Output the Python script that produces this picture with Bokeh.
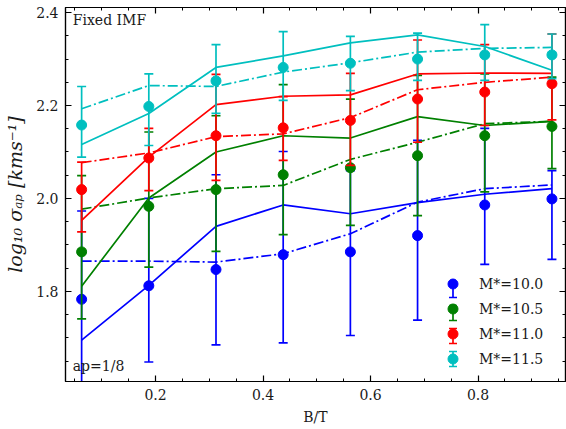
from bokeh.plotting import figure
from bokeh.models import (Range1d, LinearAxis, SingleIntervalTicker, Legend,
                          LegendItem, Label, ColumnDataSource,
                          PrintfTickFormatter, Whisker, TeeHead)
from bokeh.embed import file_html
from bokeh.resources import INLINE

# bulge-to-total bin centres
bt = [0.0625, 0.1875, 0.3125, 0.4375, 0.5625, 0.6875, 0.8125, 0.9375]

# measured log10 sigma_ap (markers) with lower / upper error limits
sig_100 = [1.783, 1.812, 1.847, 1.879, 1.885, 1.920, 1.986, 1.999]
lo_100 = [1.576, 1.648, 1.685, 1.689, 1.705, 1.738, 1.858, 1.869]
hi_100 = [1.973, 2.000, 2.051, 2.101, 2.060, 2.125, 2.151, 2.060]

sig_105 = [1.885, 1.983, 2.019, 2.051, 2.066, 2.092, 2.135, 2.155]
lo_105 = [1.741, 1.852, 1.886, 1.922, 1.942, 1.963, 2.014, 2.064]
hi_105 = [2.049, 2.143, 2.178, 2.245, 2.214, 2.265, 2.268, 2.261]

sig_110 = [2.019, 2.087, 2.135, 2.152, 2.168, 2.214, 2.229, 2.247]
lo_110 = [1.928, 2.017, 2.039, 2.082, 2.071, 2.121, 2.157, 2.169]
hi_110 = [2.078, 2.151, 2.267, 2.219, 2.269, 2.341, 2.331, 2.354]

sig_115 = [2.158, 2.198, 2.253, 2.282, 2.291, 2.300, 2.309, 2.309]
lo_115 = [2.089, 2.114, 2.183, 2.211, 2.232, 2.254, 2.254, 2.258]
hi_115 = [2.241, 2.268, 2.331, 2.359, 2.349, 2.356, 2.374, 2.354]

# model predictions: solid and dash-dot curves
solid_100 = [1.695, 1.813, 1.940, 1.986, 1.967, 1.991, 2.009, 2.021]
dd_100 = [1.865, 1.865, 1.863, 1.881, 1.924, 1.992, 2.021, 2.029]
solid_105 = [1.811, 2.001, 2.100, 2.135, 2.130, 2.176, 2.157, 2.166]
dd_105 = [1.977, 2.001, 2.021, 2.028, 2.084, 2.121, 2.161, 2.166]
solid_110 = [1.953, 2.089, 2.202, 2.220, 2.223, 2.268, 2.270, 2.269]
dd_110 = [2.077, 2.098, 2.133, 2.139, 2.174, 2.234, 2.250, 2.261]
solid_115 = [2.116, 2.183, 2.282, 2.307, 2.335, 2.352, 2.327, 2.276]
dd_115 = [2.193, 2.243, 2.241, 2.272, 2.292, 2.315, 2.323, 2.325]

labels = ["M*=10.0", "M*=10.5", "M*=11.0", "M*=11.5"]
colors = ["#0000ff", "#008000", "#ff0000", "#00bfbf"]

series = [
    (sig_100, lo_100, hi_100, solid_100, dd_100),
    (sig_105, lo_105, hi_105, solid_105, dd_105),
    (sig_110, lo_110, hi_110, solid_110, dd_110),
    (sig_115, lo_115, hi_115, solid_115, dd_115),
]

FONT = "DejaVu Serif"
INK = "#1a1a1a"
LW = 1.7

frame_w = 566 - 65 - 1
x0 = 0.0325
x1 = x0 + frame_w / 537.5

p = figure(width=566, height=429, output_backend="svg", toolbar_location=None,
           x_range=Range1d(x0, x1), y_range=Range1d(1.606, 2.411),
           min_border_left=65, min_border_right=1, min_border_top=7,
           min_border_bottom=48)
p.xgrid.visible = False
p.ygrid.visible = False
p.outline_line_color = "black"
p.outline_line_width = 1.2
p.background_fill_color = "white"
p.border_fill_color = "white"


def style_axis(ax, show_labels):
    ax.ticker = SingleIntervalTicker(interval=0.2, num_minor_ticks=4)
    ax.formatter = PrintfTickFormatter(format="%.1f")
    ax.major_tick_in = 6
    ax.major_tick_out = 0
    ax.minor_tick_in = 3
    ax.minor_tick_out = 0
    ax.major_tick_line_width = 1.2
    ax.minor_tick_line_width = 1
    ax.axis_line_color = "black"
    ax.axis_line_width = 1.2
    if show_labels:
        ax.major_label_text_font = FONT
        ax.major_label_text_font_size = "14px"
        ax.major_label_text_color = INK
        ax.major_label_standoff = 7
    else:
        # tick marks only on the mirrored axes
        ax.major_label_text_font_size = "1px"
        ax.major_label_text_alpha = 0
        ax.major_label_standoff = 0


style_axis(p.xaxis[0], True)
style_axis(p.yaxis[0], True)
p.xaxis.axis_label = "B/T"
p.xaxis.axis_label_text_font = FONT
p.xaxis.axis_label_text_font_size = "14px"
p.xaxis.axis_label_text_font_style = "normal"
p.xaxis.axis_label_text_color = INK
p.xaxis.axis_label_standoff = 6
p.yaxis.axis_label = "log₁₀ σₐₚ [kms⁻¹]"
p.yaxis.axis_label_text_font = FONT
p.yaxis.axis_label_text_font_size = "19px"
p.yaxis.axis_label_text_font_style = "italic"
p.yaxis.axis_label_text_color = INK
p.yaxis.axis_label_standoff = 7

top_ax = LinearAxis()
style_axis(top_ax, False)
p.add_layout(top_ax, "above")
right_ax = LinearAxis()
style_axis(right_ax, False)
p.add_layout(right_ax, "right")

items = []
for (sig, lo, hi, solid, dd), col, lab in zip(series, colors, labels):
    p.line(bt, solid, line_color=col, line_width=LW)
    p.line(bt, dd, line_color=col, line_width=LW, line_dash="10 3 2 3")
    src = ColumnDataSource(dict(x=bt, y=sig, lo=lo, hi=hi))
    p.segment(x0="x", y0="lo", x1="x", y1="hi", source=src,
              line_color=col, line_width=LW)
    p.scatter(x="x", y="lo", source=src, marker="dash", size=9,
              line_color=col, line_width=LW)
    p.scatter(x="x", y="hi", source=src, marker="dash", size=9,
              line_color=col, line_width=LW)
    dots = p.scatter(x="x", y="y", source=src, marker="circle", size=10,
                     fill_color=col, line_color=col)
    items.append(LegendItem(label=lab, renderers=[dots]))

# legend geometry (screen px, measured from the frame's bottom-left)
LEG_X, LEG_Y, PAD, GLYPH, PITCH = 370, 5, 5, 25, 23
key_x = LEG_X + PAD + GLYPH / 2
n = len(labels)
for i, col in enumerate(colors):
    # entries run top to bottom, so the first label sits highest
    cy = LEG_Y + PAD + GLYPH / 2 + (n - 1 - i) * PITCH
    ksrc = ColumnDataSource(dict(base=[key_x], lower=[cy - 7.5],
                                 upper=[cy + 7.5]))
    p.add_layout(Whisker(source=ksrc, base="base", lower="lower",
                         upper="upper", dimension="height",
                         base_units="screen", lower_units="screen",
                         upper_units="screen", line_color=col,
                         line_width=LW,
                         lower_head=TeeHead(size=8, line_color=col,
                                            line_width=LW),
                         upper_head=TeeHead(size=8, line_color=col,
                                            line_width=LW)))

legend = Legend(items=items, location=(LEG_X, LEG_Y), orientation="vertical",
                label_text_font=FONT, label_text_font_size="14px",
                label_text_color=INK,
                glyph_width=GLYPH, glyph_height=GLYPH, spacing=PITCH - GLYPH,
                label_standoff=14, padding=PAD, margin=0,
                border_line_alpha=0, background_fill_alpha=0)
p.add_layout(legend, "center")

p.add_layout(Label(x=0.046, y=2.384, text="Fixed IMF", text_font=FONT,
                   text_font_size="14px", text_baseline="middle",
                   text_color=INK))
p.add_layout(Label(x=0.046, y=1.639, text="ap=1/8", text_font=FONT,
                   text_font_size="14px", text_baseline="middle",
                   text_color=INK))

open("out.html", "w").write(file_html(p, INLINE))
